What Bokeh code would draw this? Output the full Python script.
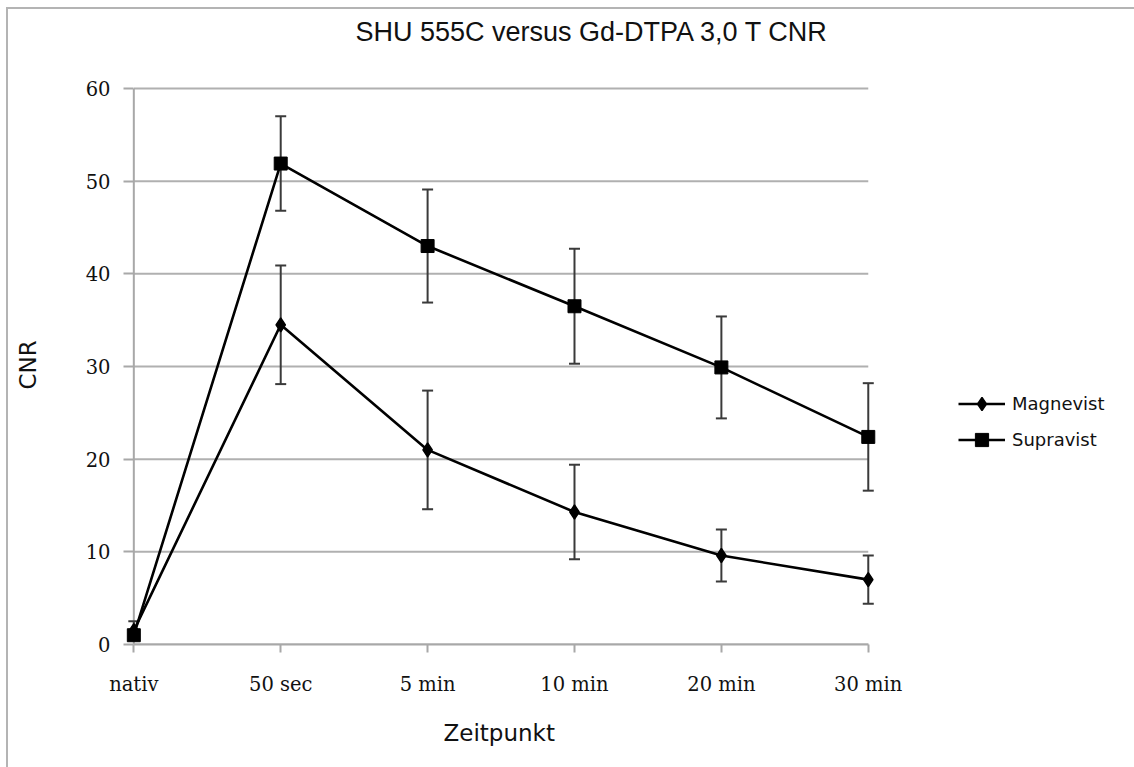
from bokeh.plotting import figure
from bokeh.models import (Range1d, FixedTicker, Whisker, ColumnDataSource, Legend,
                          LegendItem, TeeHead, Title)
from bokeh.embed import file_html
from bokeh.resources import INLINE

title_text = "SHU 555C versus Gd-DTPA 3,0 T CNR"
x_label = "Zeitpunkt"
y_label = "CNR"
timepoints = ["nativ", "50 sec", "5 min", "10 min", "20 min", "30 min"]
magnevist = [1.5, 34.5, 21.0, 14.3, 9.6, 7.0]
magnevist_err = [1.0, 6.4, 6.4, 5.1, 2.8, 2.6]
supravist = [1.0, 51.9, 43.0, 36.5, 29.9, 22.4]
supravist_err = [0.5, 5.1, 6.1, 6.2, 5.5, 5.8]
y_ticks = [0, 10, 20, 30, 40, 50, 60]

xs = list(range(len(timepoints)))
x_last = len(timepoints) - 1

# layout (pixels); the canvas sits 8px right / 9px down, after a thin chart-area border
W, H = 1126, 758
BL, BR, BT, BB = 115, 0, 76, 122
frame_w = W - BL - BR
frame_h = H - BT - BB
px_per_x = 146.6          # pixels between two time points
pad_x = 10.3 / px_per_x   # room left of "nativ" for its markers
x_start = -pad_x
x_end = x_start + frame_w / px_per_x
y_end = y_ticks[-1] * frame_h / 557.0

p = figure(width=W, height=H, output_backend="svg", toolbar_location=None,
           x_range=Range1d(x_start, x_end), y_range=Range1d(0, y_end),
           min_border_left=BL, min_border_right=BR, min_border_top=BT,
           min_border_bottom=BB)
p.styles = {"margin-left": "6px", "margin-top": "7px",
            "border-left": "2px solid #b4b4b4", "border-top": "2px solid #b4b4b4",
            "border-right": "0px none transparent", "border-bottom": "0px none transparent",
            "box-sizing": "content-box", "overflow": "visible",
            "outline": "none", "box-shadow": "none"}
p.outline_line_color = None
p.background_fill_color = "white"
p.border_fill_color = "white"

# axes
p.xaxis.ticker = FixedTicker(ticks=xs)
p.xaxis.major_label_overrides = {i: t for i, t in enumerate(timepoints)}
p.xaxis.bounds = (0, x_last)
p.yaxis.ticker = FixedTicker(ticks=y_ticks)
for ax in (p.xaxis[0], p.yaxis[0]):
    ax.axis_line_color = "#a8a8a8"
    ax.axis_line_width = 2
    ax.major_tick_line_color = "#a8a8a8"
    ax.major_tick_line_width = 2
    ax.minor_tick_line_color = None
    ax.major_label_text_font = "DejaVu Serif"
    ax.major_label_text_font_size = "19.5px"
    ax.major_label_text_color = "#111111"
    ax.axis_label_text_font = "DejaVu Sans"
    ax.axis_label_text_font_style = "normal"
    ax.axis_label_text_font_size = "23px"
    ax.axis_label_text_color = "#111111"
p.xaxis.major_tick_out = 8
p.xaxis.major_tick_in = 0
p.xaxis.major_label_standoff = 20
p.yaxis.axis_line_color = None
p.yaxis.major_tick_out = 0
p.yaxis.major_tick_in = 10
p.yaxis.major_label_standoff = 13
p.yaxis.axis_label = y_label
p.yaxis.axis_label_standoff = 42

p.xgrid.grid_line_color = None
p.ygrid.grid_line_color = None
# horizontal grid lines between first and last time point, plus the y-axis line
p.segment(x0=[0] * len(y_ticks), x1=[x_last] * len(y_ticks), y0=y_ticks, y1=y_ticks,
          line_color="#b0b0b0", line_width=2, level="underlay")
p.segment(x0=[0], x1=[0], y0=[y_ticks[0]], y1=[y_ticks[-1]],
          line_color="#a8a8a8", line_width=2, level="underlay")

# x-axis title (below the tick labels)
xt = Title(text=x_label, align="left", offset=320, standoff=43, vertical_align="top",
           text_font="DejaVu Sans", text_font_style="normal", text_font_size="23px",
           text_color="#111111")
p.add_layout(xt, "below")

# chart title (spacer first, then title)
spacer = Title(text=" ", text_font_size="1px", standoff=36)
p.add_layout(spacer, "above")
tt = Title(text=title_text, align="left", offset=232, standoff=0,
           text_font="Liberation Sans", text_font_style="normal", text_font_size="27px",
           text_color="#111111")
p.add_layout(tt, "above")

src_m = ColumnDataSource(dict(x=xs, y=magnevist,
                              lo=[v - e for v, e in zip(magnevist, magnevist_err)],
                              hi=[v + e for v, e in zip(magnevist, magnevist_err)]))
src_s = ColumnDataSource(dict(x=xs, y=supravist,
                              lo=[v - e for v, e in zip(supravist, supravist_err)],
                              hi=[v + e for v, e in zip(supravist, supravist_err)]))

for src in (src_m, src_s):
    w = Whisker(source=src, base="x", lower="lo", upper="hi",
                line_color="#3a3a3a", line_width=2,
                upper_head=TeeHead(size=11, line_color="#3a3a3a", line_width=2),
                lower_head=TeeHead(size=11, line_color="#3a3a3a", line_width=2))
    p.add_layout(w)

lm = p.line("x", "y", source=src_m, line_color="black", line_width=2.6)
sm = p.scatter("x", "y", source=src_m, marker="diamond", size=14, line_width=1.5,
               fill_color="black", line_color="black")
ls = p.line("x", "y", source=src_s, line_color="black", line_width=2.6)
ss = p.scatter("x", "y", source=src_s, marker="square", size=13,
               fill_color="black", line_color="black")

legend = Legend(items=[LegendItem(label="Magnevist", renderers=[lm, sm]),
                       LegendItem(label="Supravist", renderers=[ls, ss])],
                location=(835, 188), orientation="vertical",
                label_text_font="DejaVu Sans", label_text_font_size="18px",
                label_text_color="#111111",
                glyph_width=47, glyph_height=33, label_standoff=7, spacing=3,
                padding=0, margin=0, border_line_color=None,
                background_fill_alpha=0)
p.add_layout(legend, "center")

open("out.html", "w").write(file_html(p, INLINE))
